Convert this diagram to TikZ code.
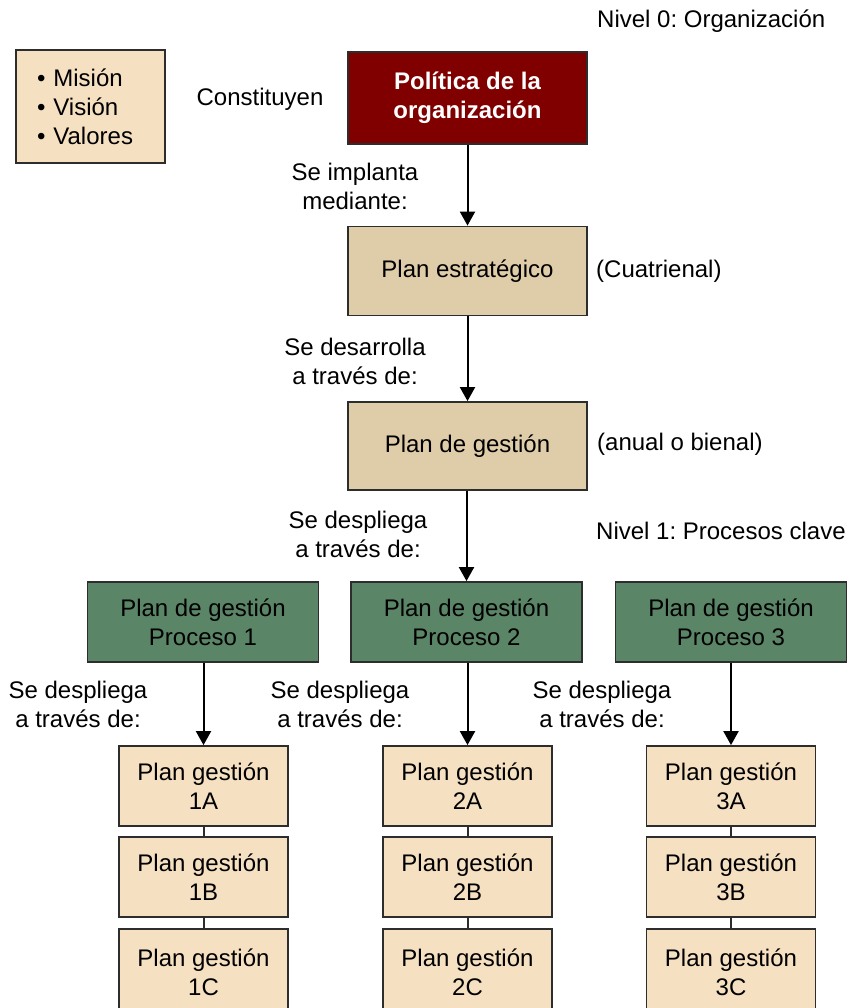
\documentclass[tikz,border=0pt]{standalone}
\usepackage{fontspec}
\setmainfont{Liberation Sans}
\usetikzlibrary{arrows.meta}
\definecolor{cream}{RGB}{245,224,193}
\definecolor{tan}{RGB}{223,205,170}
\definecolor{procgreen}{RGB}{90,133,102}
\definecolor{darkred}{RGB}{128,0,0}
\definecolor{edge}{RGB}{45,45,45}
\frenchspacing
\begin{document}
\begin{tikzpicture}[x=1pt,y=-1pt,
  font=\fontsize{24}{29}\selectfont,
  box/.style={draw=edge, line width=1.8pt, inner sep=0pt, align=center},
  plan/.style={box, fill=cream, minimum width=169pt, minimum height=80pt},
  proc/.style={box, fill=procgreen, minimum width=231pt, minimum height=80pt},
  main/.style={box, fill=tan, minimum width=239pt, minimum height=89pt},
  lbl/.style={inner sep=0pt, align=center},
  arr/.style={draw=black, line width=2pt, -{Triangle[length=14pt,width=15pt]}},
  link/.style={draw=edge, line width=2pt}]
\useasboundingbox (0,0) rectangle (853,1008);

% Level 0
\node[lbl, anchor=west] (niv0) at (597,21) {Nivel 0: Organización};
\node[box, fill=cream, minimum width=149pt, minimum height=113pt,
      text width=107pt, align=left] (mvv) at (90.5,106.5) {• Misión\\• Visión\\• Valores};
\node[lbl] (const) at (260,99) {Constituyen};
\node[box, fill=darkred, text=white, minimum width=239pt, minimum height=92pt,
      font=\fontsize{24}{29}\selectfont\bfseries] (pol) at (467.5,98) {Política de la\\organización};

\node[main] (est) at (467.5,271) {Plan estratégico};
\node[lbl, anchor=west] (cuat) at (596,271) {(Cuatrienal)};
\node[main, minimum height=88pt] (ges) at (467.5,446) {\raisebox{4pt}{Plan de gestión}};
\node[lbl, anchor=west] (anual) at (597,444) {(anual o bienal)};

\node[lbl] (l1) at (355,186) {Se implanta\\mediante:};
\node[lbl] (l2) at (355,361) {Se desarrolla\\a través de:};
\node[lbl] (l3) at (358,534) {Se despliega\\a través de:};
\node[lbl, anchor=west] (niv1) at (596,531) {Nivel 1: Procesos clave};

\draw[arr] (pol) -- (est);
\draw[arr] (est) -- (ges);

% Level 1: key processes
\node[proc] (p1) at (203,622) {Plan de gestión\\Proceso 1};
\node[proc] (p2) at (466.5,622) {Plan de gestión\\Proceso 2};
\node[proc] (p3) at (731,622) {Plan de gestión\\Proceso 3};
\draw[arr] (ges.south -| p2) -- (p2);

\node[lbl] (d1) at (78,704) {Se despliega\\a través de:};
\node[lbl] (d2) at (340,704) {Se despliega\\a través de:};
\node[lbl] (d3) at (602,704) {Se despliega\\a través de:};

\foreach \c/\x in {1/203.5, 2/467.5, 3/731}{
  \node[plan] (g\c A) at (\x,786) {Plan gestión\\\c A};
  \node[plan] (g\c B) at (\x,877) {Plan gestión\\\c B};
  \node[plan, minimum height=86pt] (g\c C) at (\x,972) {Plan gestión\\\c C};
  \draw[arr] (p\c.south -| g\c A) -- (g\c A);
  \draw[link] (g\c A) -- (g\c B);
  \draw[link] (g\c B) -- (g\c C);
}
\end{tikzpicture}
\end{document}
